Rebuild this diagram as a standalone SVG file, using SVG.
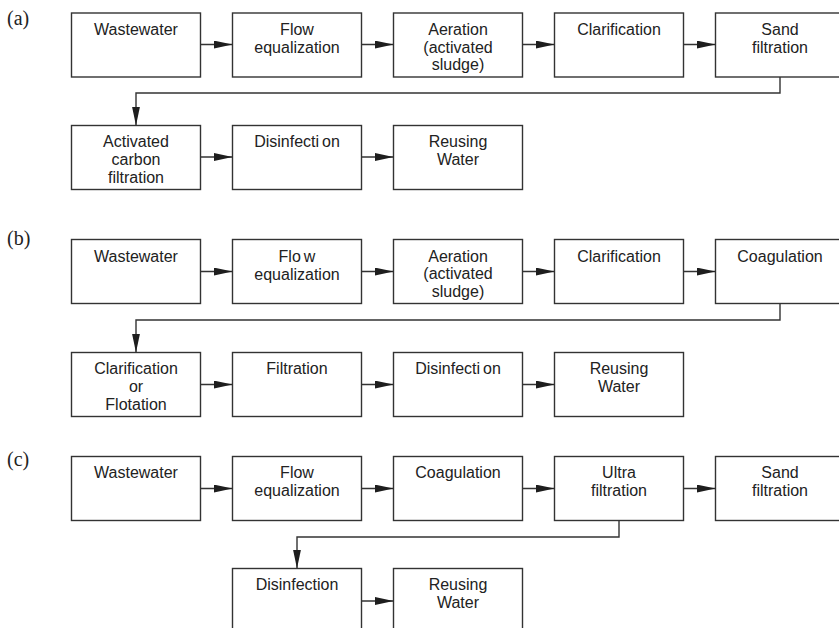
<svg xmlns="http://www.w3.org/2000/svg" width="839" height="628" viewBox="0 0 839 628">
<defs>
<marker id="ah" markerUnits="userSpaceOnUse" markerWidth="20" markerHeight="9" refX="19" refY="4" orient="auto">
<path d="M0,0 L19,4 L0,8 Z" fill="#1e1e1e"/>
</marker>
<style>
.box{fill:#fff;stroke:#333;stroke-width:1.4}
.t{font-family:"Liberation Sans",Arial,sans-serif;font-size:16px;fill:#222;text-anchor:middle}
.lbl{font-family:"Liberation Serif","Times New Roman",serif;font-size:20px;fill:#222}
.c{fill:none;stroke:#333;stroke-width:1.4;marker-end:url(#ah)}
</style>
</defs>
<rect width="839" height="628" fill="#fff"/>

<text class="lbl" x="7" y="25">(a)</text>
<text class="lbl" x="7" y="245">(b)</text>
<text class="lbl" x="7" y="466">(c)</text>

<!-- (a) row 1 -->
<g id="a1"><rect class="box" x="71.5" y="13" width="129" height="64"/><text class="t" x="136" y="35">Wastewater</text></g>
<g id="a2"><rect class="box" x="232.5" y="13" width="129" height="64"/><text class="t" x="297" y="35">Flow<tspan x="297" dy="18">equalization</tspan></text></g>
<g id="a3"><rect class="box" x="393.5" y="13" width="129" height="64"/><text class="t" x="458" y="35">Aeration<tspan x="458" dy="17.5">(activated</tspan><tspan x="458" dy="17.5">sludge)</tspan></text></g>
<g id="a4"><rect class="box" x="554.5" y="13" width="129" height="64"/><text class="t" x="619" y="35">Clarification</text></g>
<g id="a5"><rect class="box" x="715.5" y="13" width="129" height="64"/><text class="t" x="780" y="35">Sand<tspan x="780" dy="18">filtration</tspan></text></g>
<!-- (a) row 2 -->
<g id="a6"><rect class="box" x="71.5" y="125.5" width="129" height="64"/><text class="t" x="136" y="147">Activated<tspan x="136" dy="18">carbon</tspan><tspan x="136" dy="18">filtration</tspan></text></g>
<g id="a7"><rect class="box" x="232.5" y="125.5" width="129" height="64"/><text class="t" x="297" y="147">Disinfecti<tspan dx="3">on</tspan></text></g>
<g id="a8"><rect class="box" x="393.5" y="125.5" width="129" height="64"/><text class="t" x="458" y="147">Reusing<tspan x="458" dy="18">Water</tspan></text></g>

<!-- (b) row 1 -->
<g id="b1"><rect class="box" x="71.5" y="239.5" width="129" height="64"/><text class="t" x="136" y="261.5">Wastewater</text></g>
<g id="b2"><rect class="box" x="232.5" y="239.5" width="129" height="64"/><text class="t" x="297" y="261.5">Flo<tspan dx="3">w</tspan><tspan x="297" dy="18">equalization</tspan></text></g>
<g id="b3"><rect class="box" x="393.5" y="239.5" width="129" height="64"/><text class="t" x="458" y="261.5">Aeration<tspan x="458" dy="17.5">(activated</tspan><tspan x="458" dy="17.5">sludge)</tspan></text></g>
<g id="b4"><rect class="box" x="554.5" y="239.5" width="129" height="64"/><text class="t" x="619" y="261.5">Clarification</text></g>
<g id="b5"><rect class="box" x="715.5" y="239.5" width="129" height="64"/><text class="t" x="780" y="261.5">Coagulation</text></g>
<!-- (b) row 2 -->
<g id="b6"><rect class="box" x="71.5" y="352.5" width="129" height="64"/><text class="t" x="136" y="374">Clarification<tspan x="136" dy="18">or</tspan><tspan x="136" dy="18">Flotation</tspan></text></g>
<g id="b7"><rect class="box" x="232.5" y="352.5" width="129" height="64"/><text class="t" x="297" y="374">Filtration</text></g>
<g id="b8"><rect class="box" x="393.5" y="352.5" width="129" height="64"/><text class="t" x="458" y="374">Disinfecti<tspan dx="3">on</tspan></text></g>
<g id="b9"><rect class="box" x="554.5" y="352.5" width="129" height="64"/><text class="t" x="619" y="374">Reusing<tspan x="619" dy="18">Water</tspan></text></g>

<!-- (c) row 1 -->
<g id="c1"><rect class="box" x="71.5" y="456.5" width="129" height="64"/><text class="t" x="136" y="478">Wastewater</text></g>
<g id="c2"><rect class="box" x="232.5" y="456.5" width="129" height="64"/><text class="t" x="297" y="478">Flow<tspan x="297" dy="18">equalization</tspan></text></g>
<g id="c3"><rect class="box" x="393.5" y="456.5" width="129" height="64"/><text class="t" x="458" y="478">Coagulation</text></g>
<g id="c4"><rect class="box" x="554.5" y="456.5" width="129" height="64"/><text class="t" x="619" y="478">Ultra<tspan x="619" dy="18">filtration</tspan></text></g>
<g id="c5"><rect class="box" x="715.5" y="456.5" width="129" height="64"/><text class="t" x="780" y="478">Sand<tspan x="780" dy="18">filtration</tspan></text></g>
<!-- (c) row 2 -->
<g id="c6"><rect class="box" x="232.5" y="568.5" width="129" height="64"/><text class="t" x="297" y="590">Disinfection</text></g>
<g id="c7"><rect class="box" x="393.5" y="568.5" width="129" height="64"/><text class="t" x="458" y="590">Reusing<tspan x="458" dy="18">Water</tspan></text></g>

<g id="connectors">
<path class="c" d="M200.5,44.5 H232.5"/>
<path class="c" d="M361.5,44.5 H393.5"/>
<path class="c" d="M522.5,44.5 H554.5"/>
<path class="c" d="M683.5,44.5 H715.5"/>
<path class="c" d="M780,77 V93 H136 V125.5"/>
<path class="c" d="M200.5,157 H232.5"/>
<path class="c" d="M361.5,157 H393.5"/>

<path class="c" d="M200.5,271.5 H232.5"/>
<path class="c" d="M361.5,271.5 H393.5"/>
<path class="c" d="M522.5,271.5 H554.5"/>
<path class="c" d="M683.5,271.5 H715.5"/>
<path class="c" d="M780,303.5 V320 H136 V352.5"/>
<path class="c" d="M200.5,384.5 H232.5"/>
<path class="c" d="M361.5,384.5 H393.5"/>
<path class="c" d="M522.5,384.5 H554.5"/>

<path class="c" d="M200.5,488.5 H232.5"/>
<path class="c" d="M361.5,488.5 H393.5"/>
<path class="c" d="M522.5,488.5 H554.5"/>
<path class="c" d="M683.5,488.5 H715.5"/>
<path class="c" d="M619,520.5 V537 H297 V568.5"/>
<path class="c" d="M361.5,601 H393.5"/>
</g>
</svg>
